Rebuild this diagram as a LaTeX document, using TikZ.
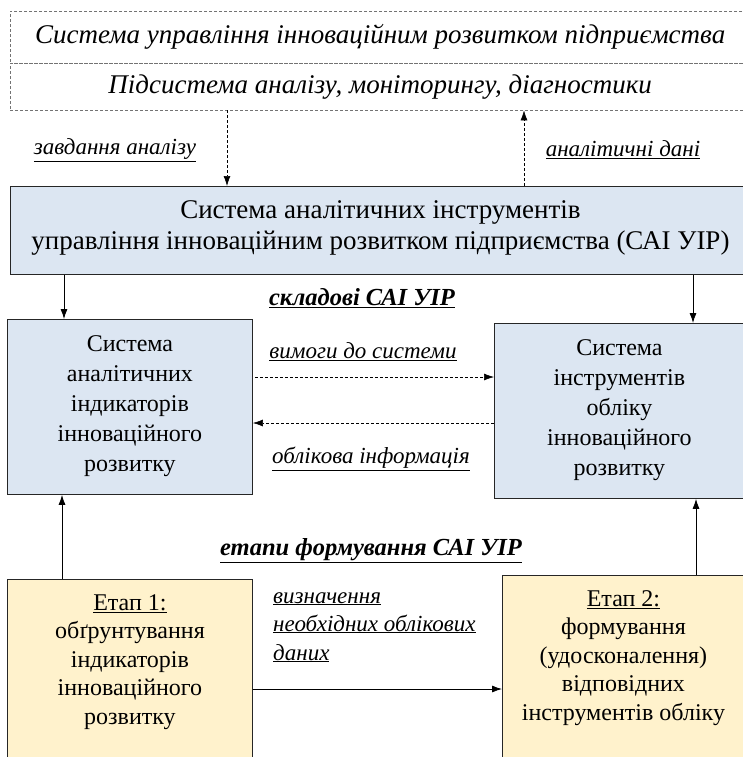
\documentclass[tikz,border=0pt]{standalone}
\usepackage{fontspec}
\setmainfont{LiberationSerif}[Extension=.ttf, UprightFont=*-Regular, ItalicFont=*-Italic, BoldFont=*-Bold, BoldItalicFont=*-BoldItalic]
\usetikzlibrary{positioning,arrows.meta}
\definecolor{boxblue}{HTML}{DCE6F2}
\definecolor{boxyellow}{HTML}{FFF2CC}
\tikzset{
  box/.style={draw=black!85, line width=0.9pt, anchor=north west},
  bluebox/.style={box, fill=boxblue},
  yellowbox/.style={box, fill=boxyellow},
  txt/.style={align=center, inner sep=0pt, font=\fontsize{24}{30}\selectfont},
  rowbox/.style={draw=black!55, densely dashed, thin, minimum width=740, anchor=north west, font=\fontsize{27}{30}\selectfont\itshape},
  lbl/.style={font=\fontsize{23}{25}\selectfont\itshape},
  head/.style={font=\fontsize{24.5}{28}\selectfont\bfseries\itshape},
  flow/.style={-{Latex[length=10pt,width=7pt]}, line width=0.8pt},
  dflow/.style={flow, densely dashed, line width=0.6pt}
}
\begin{document}
\begin{tikzpicture}[x=1pt,y=-1pt]
\useasboundingbox (0,0) rectangle (743,757);

\node[rowbox, minimum height=52] (upr) at (10,11) {Система управління інноваційним розвитком підприємства};
\node[rowbox, minimum height=47] (pid) at (10,63) {Підсистема аналізу, моніторингу, діагностики};

\node[bluebox, minimum width=740, minimum height=88] (sai) at (10,186) {};
\node[txt, font=\fontsize{27}{31}\selectfont, below=14pt of sai.north] (saiT) {Система аналітичних інструментів\\управління інноваційним розвитком підприємства (САІ УІР)};

\node[bluebox, minimum width=245, minimum height=175] (analit) at (7,319) {};
\node[txt, below=16pt of analit.north] (analitT) {Система\\аналітичних\\індикаторів\\інноваційного\\розвитку};
\node[bluebox, minimum width=256, minimum height=175] (oblik) at (494,323) {};
\node[txt, below=16pt of oblik.north, xshift=-3pt] (oblikT) {Система\\інструментів\\обліку\\інноваційного\\розвитку};

\node[yellowbox, minimum width=245, minimum height=190] (etap1) at (7,579) {};
\node[txt, font=\fontsize{24}{28.5}\selectfont, below=15pt of etap1.north] (etap1T) {\underline{Етап 1:}\\обґрунтування\\індикаторів\\інноваційного\\розвитку};
\node[yellowbox, minimum width=248, minimum height=195] (etap2) at (502,575) {};
\node[txt, font=\fontsize{24}{28.5}\selectfont, below=15pt of etap2.north, xshift=-3pt] (etap2T) {\underline{Етап 2:}\\формування\\(удосконалення)\\відповідних\\інструментів обліку};

\node[lbl] (zavd) at (115,150) {\underline{завдання аналізу}};
\node[lbl] (dani) at (623,150) {\underline{аналітичні дані}};
\node[head] (skl) at (362,298) {\underline{складові САІ УІР}};
\node[lbl] (vym) at (363,352) {\underline{вимоги до системи}};
\node[lbl] (obl) at (371,459) {\underline{облікова інформація}};
\node[head] (etapy) at (371,551) {\underline{етапи формування САІ УІР}};
\node[lbl, anchor=base west, inner sep=0pt] (vyzn1) at (273,603) {\underline{визначення}};
\node[lbl, anchor=base west, inner sep=0pt] (vyzn2) at (273,631) {\underline{необхідних облікових}};
\node[lbl, anchor=base west, inner sep=0pt] (vyzn3) at (273,660) {\underline{даних}};

\coordinate (c1) at (227,0);
\coordinate (c2) at (524,0);
\coordinate (c3) at (64,0);
\coordinate (c4) at (693,0);
\coordinate (c5) at (62,0);
\coordinate (c6) at (696,0);
\coordinate (r1) at (0,377);
\coordinate (r2) at (0,423);
\coordinate (r3) at (0,689);

\draw[dflow] (c1 |- pid.south) -- (c1 |- sai.north);
\draw[dflow] (c2 |- sai.north) -- (c2 |- pid.south);
\draw[flow] (c3 |- sai.south) -- (c3 |- analit.north);
\draw[flow] (c4 |- sai.south) -- (c4 |- oblik.north);
\draw[dflow] ([xshift=2pt]analit.east |- r1) -- (oblik.west |- r1);
\draw[dflow] (oblik.west |- r2) -- (analit.east |- r2);
\draw[flow] (c5 |- etap1.north) -- (c5 |- analit.south);
\draw[flow] (c6 |- etap2.north) -- (c6 |- oblik.south);
\draw[flow] (etap1.east |- r3) -- (etap2.west |- r3);
\end{tikzpicture}
\end{document}
